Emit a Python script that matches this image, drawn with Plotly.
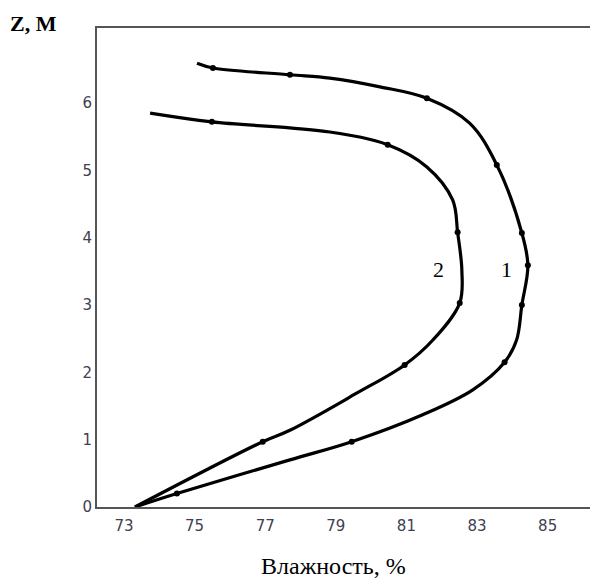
import plotly.graph_objects as go

# Curve 1 (outer profile) – traced points along the line
c1_x = [73.31, 74.50, 77.70, 79.45, 81.46, 82.88, 83.78, 84.12, 84.27, 84.44,
        84.27, 83.56, 82.79, 81.58, 80.25, 78.83, 77.70, 75.52, 75.07]
c1_z = [0.00, 0.20, 0.70, 0.97, 1.37, 1.74, 2.15, 2.48, 3.00, 3.59,
        4.07, 5.08, 5.70, 6.07, 6.24, 6.37, 6.42, 6.52, 6.59]
# Curve 1 measured points (markers)
m1_x = [74.50, 79.45, 83.78, 84.27, 84.44, 84.27, 83.56, 81.58, 77.70, 75.52]
m1_z = [0.20, 0.97, 2.15, 3.00, 3.59, 4.07, 5.08, 6.07, 6.42, 6.52]

# Curve 2 (inner profile)
c2_x = [73.31, 76.93, 77.70, 79.59, 80.95, 81.75, 82.51, 82.57, 82.45, 82.31,
        81.58, 80.47, 78.83, 75.49, 73.74]
c2_z = [0.00, 0.97, 1.14, 1.69, 2.11, 2.48, 3.03, 3.52, 4.08, 4.56,
        5.05, 5.38, 5.57, 5.72, 5.85]
m2_x = [76.93, 80.95, 82.51, 82.45, 80.47, 75.49]
m2_z = [0.97, 2.11, 3.03, 4.08, 5.38, 5.72]

x_ticks = [73, 75, 77, 79, 81, 83, 85]
z_ticks = [0, 1, 2, 3, 4, 5, 6]

curve_labels = ["1", "2"]
label_x = [83.84, 81.92]
label_z = [3.52, 3.52]

fig = go.Figure()
for cx, cz in [(c1_x, c1_z), (c2_x, c2_z)]:
    fig.add_trace(go.Scatter(x=cx, y=cz, mode="lines",
                             line=dict(color="black", width=3.2, shape="spline", smoothing=1.0),
                             hoverinfo="skip", showlegend=False))
for mx, mz in [(m1_x, m1_z), (m2_x, m2_z)]:
    fig.add_trace(go.Scatter(x=mx, y=mz, mode="markers",
                             marker=dict(color="black", size=6),
                             showlegend=False))

for t, lx, lz in zip(curve_labels, label_x, label_z):
    fig.add_annotation(x=lx, y=lz, text=t, showarrow=False,
                       font=dict(family="Liberation Serif", size=22, color="black"))

fig.add_annotation(xref="paper", yref="paper", x=-0.18, y=1.0, xanchor="left", yanchor="bottom",
                   yshift=-10, text="<b>Z, М</b>", showarrow=False,
                   font=dict(family="Liberation Serif", size=22, color="black"))
fig.add_annotation(xref="paper", yref="paper", x=0.48, y=0, xanchor="center", yanchor="top",
                   yshift=-44, text="Влажность, %", showarrow=False,
                   font=dict(family="Liberation Serif", size=24, color="black"))

tick_font = dict(family="DejaVu Sans", size=15, color="#404050")
fig.update_xaxes(range=[72.236, 86.2], tickvals=x_ticks, showgrid=False, zeroline=False,
                 showline=True, linecolor="#555", linewidth=2, mirror=True, ticks="",
                 tickfont=tick_font, ticklabelstandoff=4)
fig.update_yaxes(range=[0, 7.114], tickvals=z_ticks, showgrid=False, zeroline=False,
                 showline=True, linecolor="#555", linewidth=2, ticks="",
                 tickfont=tick_font)

fig.update_layout(width=591, height=584, margin=dict(l=97, r=1, t=28, b=77, autoexpand=False),
                  plot_bgcolor="white", paper_bgcolor="white")
fig.write_html("out.html", config={"responsive": False, "displayModeBar": False},
               post_script="document.body.style.margin='0';document.body.style.padding='0';")
